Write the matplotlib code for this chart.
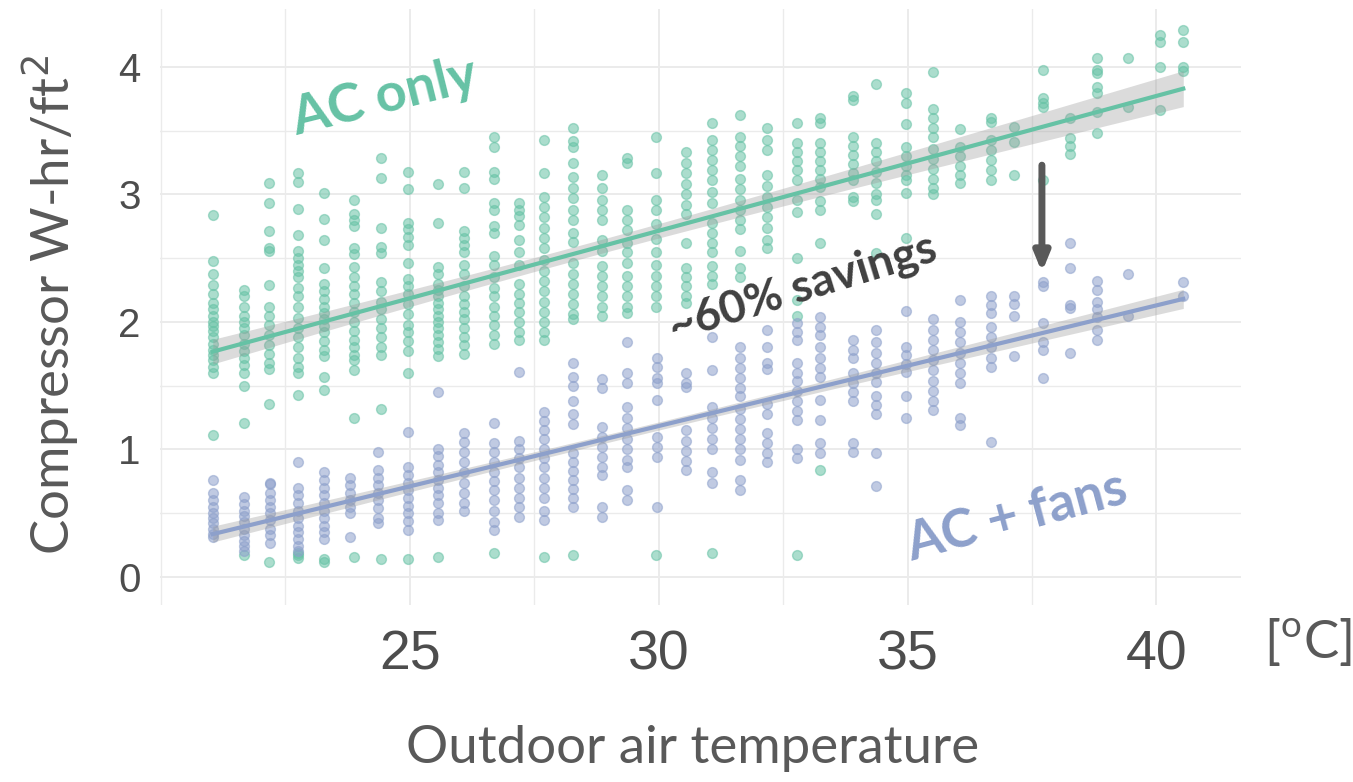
import numpy as np
import matplotlib.pyplot as plt

green = "#66c2a5"
blue = "#8da0cb"
grid_col = "#ebebeb"
text_col = "#595959"

# outdoor temperature of each daily column, and the compressor energy points in it
ac_only_temp = [21.04, 21.67, 22.17, 22.75, 23.27, 23.88, 24.42, 24.96, 25.56, 26.08,
                26.69, 27.19, 27.70, 28.27, 28.87, 29.37, 29.94, 30.54, 31.08, 31.64,
                32.18, 32.78, 33.25, 33.90, 34.36, 34.96, 35.52, 36.06, 36.67, 37.13,
                37.73, 38.27, 38.81, 39.42, 40.08, 40.54]
ac_only_power = [
    [2.84, 2.48, 2.38, 2.29, 2.22, 2.15, 2.10, 2.05, 2.00, 1.97, 1.93, 1.88, 1.83, 1.78, 1.74, 1.70, 1.65, 1.60, 1.11],
    [2.25, 2.20, 2.12, 2.05, 2.00, 1.95, 1.90, 1.83, 1.77, 1.72, 1.66, 1.60, 1.50, 1.21, 0.17],
    [3.09, 2.93, 2.71, 2.58, 2.56, 2.29, 2.12, 2.05, 1.98, 1.90, 1.82, 1.75, 1.68, 1.63, 1.36, 0.12],
    [3.17, 3.10, 2.89, 2.68, 2.56, 2.50, 2.45, 2.40, 2.35, 2.27, 2.20, 2.12, 2.03, 1.95, 1.88, 1.80, 1.72, 1.65, 1.60, 1.43, 0.19, 0.17, 0.15],
    [3.01, 2.81, 2.64, 2.42, 2.30, 2.24, 2.18, 2.12, 2.07, 2.02, 1.97, 1.92, 1.85, 1.78, 1.73, 1.57, 1.47, 0.14, 0.12],
    [2.96, 2.85, 2.80, 2.75, 2.58, 2.53, 2.43, 2.35, 2.28, 2.22, 2.15, 2.08, 2.00, 1.93, 1.86, 1.80, 1.74, 1.70, 1.62, 1.25, 0.16],
    [3.29, 3.13, 2.74, 2.59, 2.54, 2.31, 2.24, 2.16, 2.10, 2.02, 1.95, 1.88, 1.80, 1.74, 1.32, 0.14],
    [3.18, 3.04, 2.78, 2.73, 2.67, 2.60, 2.46, 2.34, 2.28, 2.22, 2.14, 2.06, 1.98, 1.92, 1.85, 1.77, 1.60, 0.14],
    [3.08, 2.78, 2.43, 2.38, 2.30, 2.25, 2.20, 2.15, 2.10, 2.05, 2.00, 1.95, 1.90, 1.84, 1.79, 1.73, 0.16],
    [3.18, 3.05, 2.71, 2.66, 2.60, 2.55, 2.45, 2.38, 2.28, 2.20, 2.14, 2.08, 2.02, 1.95, 1.88, 1.82, 1.75],
    [3.45, 3.37, 3.18, 3.12, 2.93, 2.88, 2.75, 2.70, 2.52, 2.45, 2.35, 2.27, 2.20, 2.12, 2.05, 1.98, 1.90, 1.83, 0.19],
    [2.93, 2.88, 2.83, 2.76, 2.64, 2.55, 2.45, 2.30, 2.22, 2.15, 2.08, 2.00, 1.92, 1.86],
    [3.43, 3.17, 2.98, 2.90, 2.82, 2.74, 2.66, 2.58, 2.49, 2.40, 2.32, 2.24, 2.16, 2.08, 2.00, 1.92, 1.86, 0.16],
    [3.52, 3.42, 3.37, 3.25, 3.14, 3.05, 2.97, 2.88, 2.80, 2.70, 2.63, 2.46, 2.38, 2.30, 2.22, 2.14, 2.06, 2.02, 0.17],
    [3.15, 3.05, 2.96, 2.88, 2.80, 2.64, 2.56, 2.44, 2.36, 2.28, 2.20, 2.12, 2.05],
    [3.29, 3.25, 2.88, 2.80, 2.72, 2.62, 2.55, 2.46, 2.36, 2.28, 2.20, 2.12, 2.07],
    [3.45, 3.17, 2.96, 2.88, 2.77, 2.65, 2.55, 2.45, 2.36, 2.28, 2.20, 2.12, 0.17],
    [3.33, 3.25, 3.17, 3.08, 3.00, 2.92, 2.85, 2.62, 2.42, 2.35, 2.28, 2.20, 2.15],
    [3.56, 3.43, 3.35, 3.27, 3.19, 3.11, 3.02, 2.93, 2.78, 2.70, 2.62, 2.55, 2.44, 2.36, 2.30, 0.19],
    [3.62, 3.45, 3.38, 3.30, 3.22, 3.12, 3.04, 2.96, 2.88, 2.80, 2.73, 2.56, 2.42, 2.35],
    [3.52, 3.43, 3.35, 3.15, 3.07, 2.98, 2.90, 2.82, 2.74, 2.64, 2.58],
    [3.56, 3.40, 3.33, 3.26, 3.19, 3.11, 2.96, 2.86, 2.50, 2.17, 2.05, 0.17],
    [3.60, 3.56, 3.40, 3.33, 3.26, 3.19, 3.12, 3.06, 2.95, 2.88, 2.62, 0.84],
    [3.77, 3.74, 3.45, 3.38, 3.31, 3.24, 3.17, 3.11, 2.98, 2.95],
    [3.87, 3.40, 3.33, 3.26, 3.18, 3.09, 3.00, 2.96, 2.85, 2.54],
    [3.80, 3.72, 3.55, 3.37, 3.30, 3.22, 3.15, 3.11, 3.01, 2.66],
    [3.96, 3.67, 3.60, 3.52, 3.45, 3.36, 3.28, 3.20, 3.12, 3.05, 3.00],
    [3.51, 3.37, 3.30, 3.22, 3.15, 3.09],
    [3.60, 3.57, 3.43, 3.35, 3.27, 3.19, 3.11],
    [3.53, 3.41, 3.15],
    [3.98, 3.76, 3.72, 3.69, 3.11],
    [3.60, 3.44, 3.38, 3.32],
    [4.07, 3.98, 3.95, 3.84, 3.80, 3.65, 3.48],
    [4.07, 3.69],
    [4.25, 4.20, 4.00, 3.66],
    [4.29, 4.20, 4.00, 3.97],
]

fans_temp = [21.04, 21.67, 22.20, 22.75, 23.27, 23.80, 24.36, 24.96, 25.56, 26.08,
             26.69, 27.19, 27.69, 28.27, 28.87, 29.37, 29.97, 30.54, 31.08, 31.64,
             32.18, 32.78, 33.25, 33.90, 34.36, 34.96, 35.52, 36.06, 36.67, 37.13,
             37.73, 38.27, 38.81, 39.42, 40.54]
fans_power = [
    [0.76, 0.66, 0.60, 0.55, 0.50, 0.46, 0.42, 0.38, 0.34, 0.31],
    [0.63, 0.57, 0.52, 0.48, 0.43, 0.38, 0.33, 0.28, 0.24, 0.20],
    [0.74, 0.73, 0.66, 0.60, 0.55, 0.50, 0.45, 0.38, 0.33, 0.27],
    [0.90, 0.70, 0.64, 0.58, 0.52, 0.46, 0.40, 0.35, 0.30, 0.24, 0.20],
    [0.82, 0.76, 0.70, 0.64, 0.58, 0.52, 0.46, 0.40, 0.35, 0.30],
    [0.78, 0.72, 0.66, 0.60, 0.55, 0.50, 0.31],
    [0.98, 0.84, 0.78, 0.72, 0.66, 0.60, 0.54, 0.46, 0.42],
    [1.14, 0.86, 0.80, 0.74, 0.68, 0.62, 0.56, 0.50, 0.44, 0.37],
    [1.45, 1.00, 0.95, 0.88, 0.82, 0.76, 0.70, 0.64, 0.58, 0.50, 0.45],
    [1.13, 1.06, 0.98, 0.90, 0.82, 0.74, 0.66, 0.58, 0.52],
    [1.21, 1.05, 0.98, 0.90, 0.82, 0.75, 0.68, 0.60, 0.52, 0.43, 0.37],
    [1.61, 1.07, 1.00, 0.93, 0.86, 0.78, 0.70, 0.62, 0.55, 0.47],
    [1.29, 1.22, 1.15, 1.08, 1.00, 0.93, 0.86, 0.78, 0.70, 0.62, 0.52, 0.45],
    [1.68, 1.57, 1.50, 1.38, 1.28, 1.20, 0.97, 0.90, 0.83, 0.76, 0.69, 0.62, 0.55],
    [1.55, 1.48, 1.18, 1.10, 1.02, 0.94, 0.86, 0.80, 0.55, 0.47],
    [1.84, 1.60, 1.52, 1.33, 1.25, 1.17, 1.08, 1.00, 0.92, 0.86, 0.68, 0.60],
    [1.72, 1.65, 1.56, 1.52, 1.39, 1.10, 1.02, 0.94, 0.55],
    [1.60, 1.52, 1.49, 1.15, 1.07, 0.99, 0.91, 0.84],
    [1.88, 1.62, 1.33, 1.25, 1.17, 1.08, 1.00, 0.82, 0.74],
    [1.80, 1.72, 1.64, 1.56, 1.48, 1.42, 1.32, 1.24, 1.16, 1.08, 1.00, 0.92, 0.76, 0.68],
    [1.94, 1.80, 1.68, 1.63, 1.36, 1.28, 1.13, 1.05, 0.97, 0.90],
    [1.99, 1.92, 1.86, 1.68, 1.60, 1.54, 1.46, 1.38, 1.30, 1.23, 1.00, 0.93],
    [2.04, 1.96, 1.90, 1.80, 1.72, 1.64, 1.57, 1.39, 1.23, 1.05, 0.97],
    [1.86, 1.78, 1.72, 1.60, 1.52, 1.45, 1.38, 1.05, 0.98],
    [1.94, 1.84, 1.76, 1.68, 1.60, 1.53, 1.42, 1.35, 1.28, 0.97, 0.71],
    [2.09, 1.80, 1.74, 1.67, 1.61, 1.42, 1.25],
    [2.02, 1.94, 1.86, 1.78, 1.70, 1.62, 1.54, 1.46, 1.38, 1.31],
    [2.17, 2.00, 1.92, 1.84, 1.76, 1.68, 1.60, 1.52, 1.25, 1.19],
    [2.20, 2.13, 2.07, 1.96, 1.88, 1.80, 1.72, 1.65, 1.06],
    [2.20, 2.14, 2.05, 1.73],
    [2.31, 2.28, 1.99, 1.84, 1.78, 1.56],
    [2.62, 2.42, 2.13, 2.11, 1.76],
    [2.32, 2.25, 2.16, 2.10, 2.04, 1.94, 1.86],
    [2.38, 2.05],
    [2.31, 2.20],
]


def flatten(temps, powers):
    x = np.concatenate([np.full(len(p), t) for t, p in zip(temps, powers)])
    y = np.concatenate([np.asarray(p, dtype=float) for p in powers])
    return x, y


def lm_band(x, y, n=80):
    # straight-line fit with a 95% band on the mean, like geom_smooth(method="lm")
    b, a = np.polyfit(x, y, 1)
    xs = np.linspace(x.min(), x.max(), n)
    resid = y - (a + b * x)
    s = np.sqrt(np.sum(resid ** 2) / (len(x) - 2))
    se = s * np.sqrt(1 / len(x) + (xs - x.mean()) ** 2 / np.sum((x - x.mean()) ** 2))
    fit = a + b * xs
    return xs, fit, fit - 1.96 * se, fit + 1.96 * se


fig = plt.figure(figsize=(13.53, 7.82), dpi=100)
ax = fig.add_axes([160 / 1353, 1 - 605 / 782, (1241 - 160) / 1353, (605 - 9) / 782])

for temps, powers, col in [(ac_only_temp, ac_only_power, green), (fans_temp, fans_power, blue)]:
    x, y = flatten(temps, powers)
    ax.scatter(x, y, s=50, facecolor=col, edgecolor=col, alpha=0.55, linewidth=1.0, zorder=2)
    xs, fit, lo, hi = lm_band(x, y)
    ax.fill_between(xs, lo, hi, color="#999999", alpha=0.35, linewidth=0, zorder=3)
    ax.plot(xs, fit, color=col, lw=3, zorder=4)

ax.set_xlim(19.98, 41.7)
ax.set_ylim(-0.22, 4.455)
ax.set_xticks([25, 30, 35, 40])
ax.set_xticks([20, 22.5, 27.5, 32.5, 37.5], minor=True)
ax.set_yticks([0, 1, 2, 3, 4])
ax.set_yticks([0.5, 1.5, 2.5, 3.5], minor=True)
ax.grid(True, which="major", color=grid_col, lw=1.4, zorder=0)
ax.grid(True, which="minor", color=grid_col, lw=1.0, zorder=0)
ax.set_axisbelow(True)
for sp in ax.spines.values():
    sp.set_visible(False)
ax.tick_params(which="both", length=0)
ax.tick_params(axis="x", pad=18, labelsize=40, labelcolor="#4d4d4d")
ax.tick_params(axis="y", pad=14, labelsize=29, labelcolor="#4d4d4d")
for lab in ax.get_xticklabels():
    lab.set_family(["Liberation Sans Narrow", "Liberation Sans", "DejaVu Sans"])
for lab in ax.get_yticklabels():
    lab.set_family(["Liberation Sans", "DejaVu Sans"])

fig.text(50 / 1353, 1 - 305 / 782, "Compressor W-hr/ft$^2$", rotation=90, ha="center", va="center",
         fontsize=38, color=text_col, family=["Lato", "DejaVu Sans"])
fig.text(693 / 1353, 1 - 748 / 782, "Outdoor air temperature", ha="center", va="center",
         fontsize=38, color=text_col, family=["Lato", "DejaVu Sans"])
fig.text(1308 / 1353, 1 - 642 / 782, r"[$^\mathregular{o}$C]", ha="center", va="center",
         fontsize=38, color=text_col, family=["Lato", "DejaVu Sans"])

ax.text(24.5, 3.76, "AC only", rotation=14, ha="center", va="center", fontsize=39,
        fontweight="bold", color=green, family=["Lato", "DejaVu Sans"])
ax.text(32.9, 2.27, "~60% savings", rotation=17, ha="center", va="center", fontsize=33,
        fontweight="bold", color="#404040", family=["Lato", "DejaVu Sans"])
ax.text(37.2, 0.47, "AC + fans", rotation=15, ha="center", va="center", fontsize=38,
        fontweight="bold", color=blue, family=["Lato", "DejaVu Sans"])

ax.annotate("", xy=(37.7, 2.39), xytext=(37.7, 3.23),
            arrowprops=dict(arrowstyle="-|>,head_length=1.1,head_width=0.45", color="#595959",
                            lw=5, shrinkA=0, shrinkB=0))

fig.savefig("out.png", dpi=100)
